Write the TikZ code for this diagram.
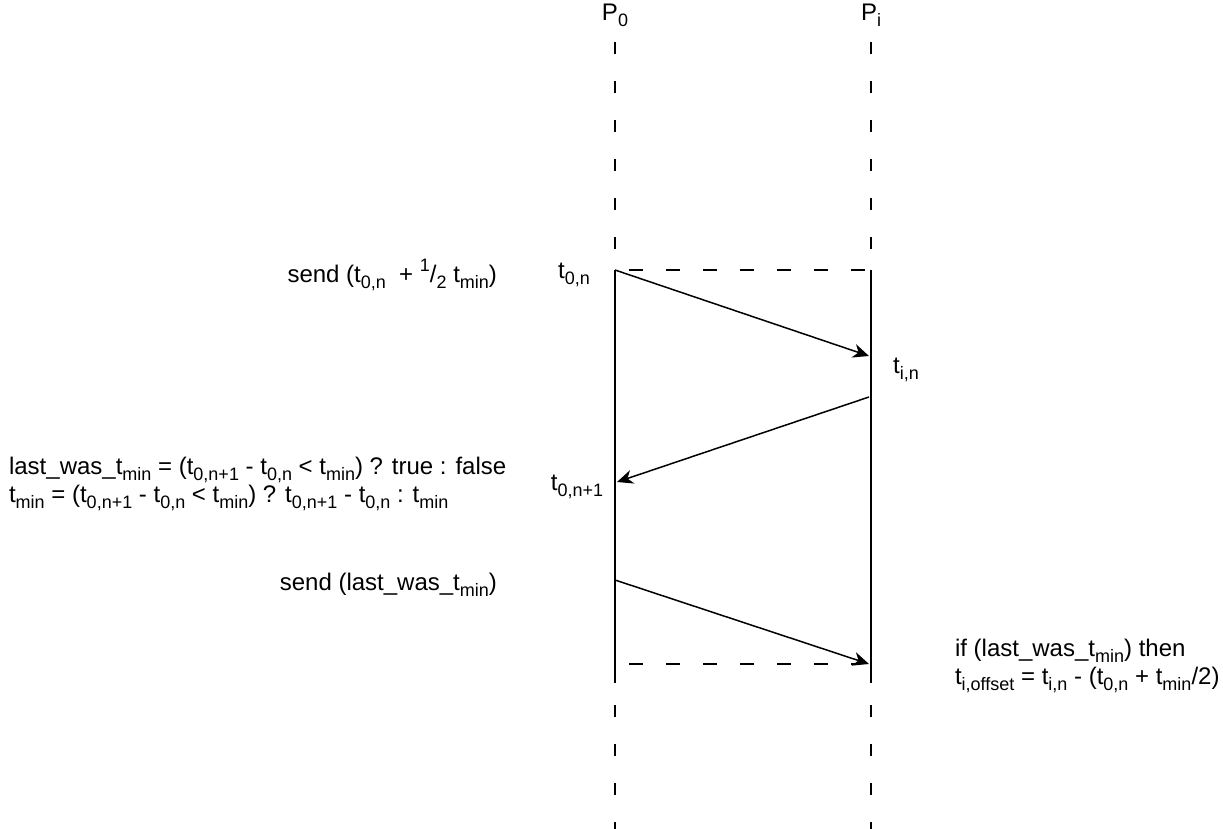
\documentclass[tikz,border=0pt]{standalone}
\usepackage{fontspec}
\setmainfont{Liberation Sans}
\usetikzlibrary{arrows.meta}
\newcommand{\sub}[1]{\raisebox{-0.45ex}{\fontsize{9}{9}\selectfont #1}}
\newcommand{\supr}[1]{\raisebox{0.9ex}{\fontsize{9}{9}\selectfont #1}}
\newcommand{\tmin}{t\sub{min}}

\begin{document}
\begin{tikzpicture}[x=0.5pt, y=-0.5pt, >={Stealth[length=8pt,width=7pt,inset=2.5pt]},
		font=\fontsize{12}{14}\selectfont,
		life/.style={line width=0.75pt, dash pattern=on 6pt off 13.5pt},
		gapline/.style={line width=0.75pt, dash pattern=on 7pt off 11.5pt},
		msg/.style={->, line width=0.75pt}]
		\useasboundingbox (0,0) rectangle (1223,829);
		% processes
		\node (p0) at (615,15) {P\sub{0}};
		\node (pi) at (871,15) {P\sub{i}};
		\coordinate (p0top) at (615,42);
		\coordinate (pitop) at (871,42);
		\coordinate (p0a) at (615,270);
		\coordinate (pia) at (871,270);
		\coordinate (p0b) at (615,683);
		\coordinate (pib) at (871,683);
		\coordinate (p0end) at (615,829);
		\coordinate (piend) at (871,829);
		\draw[life] (p0top) -- (p0a);
		\draw[life] (pitop) -- (pia);
		\draw[line width=0.75pt] (p0a) -- (p0b);
		\draw[line width=0.75pt] (pia) -- (pib);
		\draw[life] ([yshift=-11pt]p0b) -- (p0end);
		\draw[life] ([yshift=-11pt]pib) -- (piend);
		% messages
		\coordinate (s1) at (615,270);
		\coordinate (r1) at (869,356);
		\coordinate (s2) at (869,397);
		\coordinate (r2) at (617,482);
		\coordinate (s3) at (615,580);
		\coordinate (r3) at (869,664);
		\draw[gapline] (629,270) -- (pia);
		\draw[gapline] (629,664) -- (855,664);
		\draw[msg] (s1) -- (r1);
		\draw[msg] (s2) -- (r2);
		\draw[msg] (s3) -- (r3);
		% labels
		\node[anchor=east] (send1) at (504,275) {send (t\sub{0,n}\ \ + \supr{1}/\sub{2} \tmin)};
		\node (t0n) at (574,275) {t\sub{0,n}};
		\node (tin) at (906,370) {t\sub{i,n}};
		\node (t0n1) at (577,487) {t\sub{0,n+1}};
		\node[anchor=west, align=left] (calc) at (2,484) {last\_was\_\tmin{} = (t\sub{0,n+1} - t\sub{0,n} < \tmin) ? true : false\\
			\tmin{} = (t\sub{0,n+1} - t\sub{0,n} < \tmin) ? t\sub{0,n+1} - t\sub{0,n} : \tmin};
		\node[anchor=east] (send2) at (504,585) {send (last\_was\_\tmin)};
		\node[anchor=west, align=left] (upd) at (948,666) {if (last\_was\_\tmin) then\\
			t\sub{i,offset} = t\sub{i,n} - (t\sub{0,n} + \tmin/2)};
	\end{tikzpicture}
\end{document}
